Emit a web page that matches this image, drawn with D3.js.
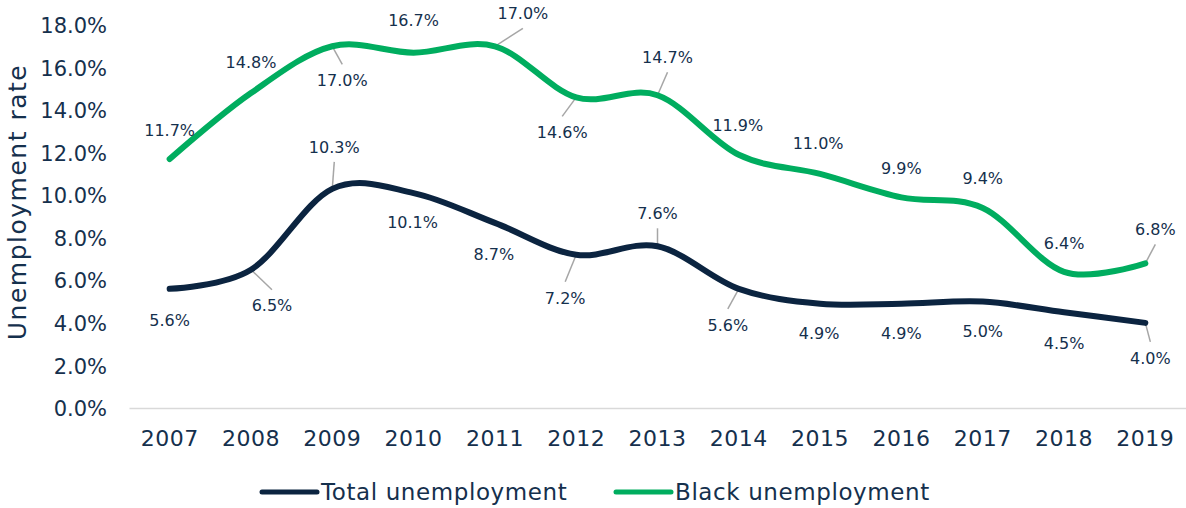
<!DOCTYPE html>
<html>
<head>
<meta charset="utf-8">
<script src="https://cdn.jsdelivr.net/npm/d3@7"></script>
<style>
  body { margin: 0; background: #fff; }
  text { font-family: "DejaVu Sans", sans-serif; fill: #15304d; }
</style>
</head>
<body>
<div id="graph"></div>
<script>
// Data ///////////////////////////////////////////////////////////////////////
const years = ["2007", "2008", "2009", "2010", "2011", "2012", "2013", "2014", "2015", "2016", "2017", "2018", "2019"];
const totalRate = [5.6, 6.5, 10.3, 10.1, 8.7, 7.2, 7.6, 5.6, 4.9, 4.9, 5.0, 4.5, 4.0];
const blackRate = [11.7, 14.8, 17.0, 16.7, 17.0, 14.6, 14.7, 11.9, 11.0, 9.9, 9.4, 6.4, 6.8];
const yTicks = [0, 2, 4, 6, 8, 10, 12, 14, 16, 18];
const seriesNames = ["Total unemployment", "Black unemployment"];

// Label placement (offset from the point, leader line yes/no)
const totalLabelPos = [
  [0, 31, false], [21, 36, true], [2, -42, true], [-1, 29, false], [-1, 31, false],
  [-11, 43, true], [0, -33, true], [-11, 36, true], [-1, 30, false], [0, 30, false],
  [0, 30, false], [0, 31, false], [5, 35, true]
];
const blackLabelPos = [
  [0, -29, false], [0, -31, false], [10, 34, true], [0, -32, false], [28, -33, true],
  [-14, 35, true], [10, -38, true], [-1, -30, false], [-2, -31, false], [0, -29, false],
  [0, -30, false], [0, -29, false], [10, -34, true]
];

// Constants //////////////////////////////////////////////////////////////////
const svgWidth = 1186;
const svgHeight = 508;
const navy = "#0b2440";
const green = "#00ad5f";

const svg = d3
  .select("#graph")
  .append("svg")
  .attr("width", svgWidth)
  .attr("height", svgHeight);

const x = d3.scaleBand().domain(years).range([129, 1186]);
const xc = d => x(d) + x.bandwidth() / 2;
const y = d3.scaleLinear().domain([0, 18]).range([408, 25]);

// Axes ///////////////////////////////////////////////////////////////////////
const yAxis = svg
  .append("g")
  .attr("transform", "translate(107,0)")
  .call(d3.axisLeft(y).tickValues(yTicks).tickSize(0).tickFormat(d => d.toFixed(1) + "%"));
yAxis.select(".domain").remove();
yAxis.selectAll("text")
  .attr("x", 0)
  .attr("dy", "0.36em")
  .style("font-size", "21px")
  .style("font-family", null);

const xAxis = svg
  .append("g")
  .attr("transform", "translate(0,408)")
  .call(d3.axisBottom(x).tickSize(0));
xAxis.select(".domain").attr("stroke", "#d9d9d9").attr("stroke-width", 1.5);
xAxis.selectAll("text")
  .attr("y", 30)
  .attr("dy", "0.36em")
  .style("font-size", "22px")
  .style("letter-spacing", "0.5px")
  .style("font-family", null);

svg.append("text")
  .attr("transform", "translate(26,202) rotate(-90)")
  .attr("text-anchor", "middle")
  .style("font-size", "25px")
  .style("letter-spacing", "1.5px")
  .text("Unemployment rate");

// Lines //////////////////////////////////////////////////////////////////////
const line = d3.line()
  .x(d => xc(d.year))
  .y(d => y(d.value))
  .curve(d3.curveCardinal.tension(0));

const series = [
  { name: seriesNames[0], color: navy, values: totalRate, pos: totalLabelPos },
  { name: seriesNames[1], color: green, values: blackRate, pos: blackLabelPos }
];

series.forEach(s => {
  s.points = years.map((yr, i) => ({ year: yr, value: s.values[i], pos: s.pos[i] }));
});

// leader lines first so the series line covers their start
series.forEach(s => {
  svg.append("g")
    .selectAll("line")
    .data(s.points.filter(p => p.pos[2]))
    .join("line")
    .attr("x1", d => xc(d.year))
    .attr("y1", d => y(d.value))
    .attr("x2", d => xc(d.year) + d.pos[0])
    .attr("y2", d => y(d.value) + d.pos[1] + (d.pos[1] > 0 ? -16 : 15))
    .attr("stroke", "#a6a6a6")
    .attr("stroke-width", 1.5);
});

series.forEach(s => {
  svg.append("path")
    .datum(s.points)
    .attr("d", line)
    .attr("fill", "none")
    .attr("stroke", s.color)
    .attr("stroke-width", 6)
    .attr("stroke-linecap", "round");
});

series.forEach(s => {
  svg.append("g")
    .selectAll("text")
    .data(s.points)
    .join("text")
    .attr("x", d => xc(d.year) + d.pos[0])
    .attr("y", d => y(d.value) + d.pos[1])
    .attr("dy", "0.36em")
    .attr("text-anchor", "middle")
    .style("font-size", "16px")
    .text(d => d.value.toFixed(1) + "%");
});

// Legend /////////////////////////////////////////////////////////////////////
const legendX = [262, 616];
const legend = svg.append("g")
  .selectAll("g")
  .data(series)
  .join("g")
  .attr("transform", (d, i) => `translate(${legendX[i]},492)`);

legend.append("line")
  .attr("x1", 0)
  .attr("x2", 55)
  .attr("stroke", d => d.color)
  .attr("stroke-width", 5)
  .attr("stroke-linecap", "round");

legend.append("text")
  .attr("x", 59)
  .attr("dy", "0.36em")
  .style("font-size", "23px")
  .style("letter-spacing", "0.6px")
  .text(d => d.name);
</script>
</body>
</html>
